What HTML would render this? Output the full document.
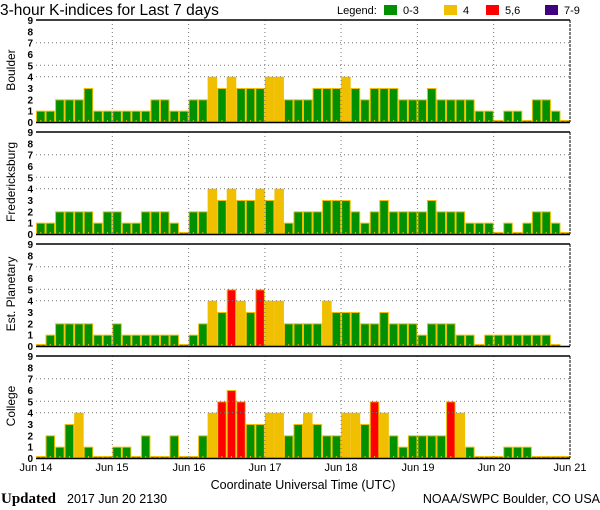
<!DOCTYPE html>
<html><head><meta charset="utf-8"><style>
html,body{margin:0;padding:0;background:#fff;}
svg{display:block;font-family:"Liberation Sans","DejaVu Sans",sans-serif;}
</style></head><body>
<svg id="s" width="600" height="510" viewBox="0 0 600 510" xmlns="http://www.w3.org/2000/svg">
<rect width="600" height="510" fill="#fff"/>
<text x="0" y="15" font-size="15.5" fill="#000">3-hour K-indices for Last 7 days</text>
<text x="337" y="14" font-size="11" fill="#000">Legend:</text>
<rect x="384" y="5" width="13" height="10" fill="#009000"/>
<text x="403" y="14" font-size="11">0-3</text>
<rect x="444" y="5" width="13" height="10" fill="#f0c000"/>
<text x="463" y="14" font-size="11">4</text>
<rect x="486" y="5" width="13" height="10" fill="#ff0000"/>
<text x="505" y="14" font-size="11">5,6</text>
<rect x="545" y="5" width="13" height="10" fill="#400080"/>
<text x="564" y="14" font-size="11">7-9</text>
<g id="panels"></g>
<text transform="translate(15,70) rotate(-90)" text-anchor="middle" font-size="12">Boulder</text>
<text transform="translate(15,182) rotate(-90)" text-anchor="middle" font-size="12">Fredericksburg</text>
<text transform="translate(15,294) rotate(-90)" text-anchor="middle" font-size="12">Est. Planetary</text>
<text transform="translate(15,406) rotate(-90)" text-anchor="middle" font-size="12">College</text>
<g font-size="11" text-anchor="middle">
<text x="36" y="471">Jun 14</text><text x="112" y="471">Jun 15</text><text x="189" y="471">Jun 16</text><text x="265" y="471">Jun 17</text><text x="341" y="471">Jun 18</text><text x="418" y="471">Jun 19</text><text x="494" y="471">Jun 20</text><text x="570" y="471">Jun 21</text>
</g>
<text x="303" y="489" font-size="12.5" text-anchor="middle">Coordinate Universal Time (UTC)</text>
<text x="1" y="503" font-size="15" font-family="Liberation Serif,serif" font-weight="bold">Updated</text>
<text x="67" y="503" font-size="12.5">2017 Jun 20 2130</text>
<text x="600" y="503" font-size="12.5" text-anchor="end">NOAA/SWPC Boulder, CO USA</text>
<g id="yl" font-size="10" text-anchor="end" font-weight="bold"></g>
</svg>
<script>
var D=[
[1,1,2,2,2,3,1,1,1,1,1,1,2,2,1,1,2,2,4,3,4,3,3,3,4,4,2,2,2,3,3,3,4,3,2,3,3,3,2,2,2,3,2,2,2,2,1,1,0,1,1,0,2,2,1,0],
[1,1,2,2,2,2,1,2,2,1,1,2,2,2,1,0,2,2,4,3,4,3,3,4,3,4,1,2,2,2,3,3,3,2,1,2,3,2,2,2,2,3,2,2,2,1,1,1,0,1,0,1,2,2,1,0],
[0,1,2,2,2,2,1,1,2,1,1,1,1,1,1,0,1,2,4,3,5,4,3,5,4,4,2,2,2,2,4,3,3,3,2,2,3,2,2,2,1,2,2,2,1,1,0,1,1,1,1,1,1,1,0,null],
[0,2,1,3,4,1,0,0,1,1,0,2,0,0,2,0,0,2,4,5,6,5,3,3,4,4,2,3,4,3,2,2,4,4,3,5,4,2,1,2,2,2,2,5,4,1,0,0,0,1,1,1,0,0,0,0]];
var tops=[20,132,244,356],L=36,R=570,W=(R-L)/56,H=102,u=H/9,o='',ns='';
function col(v){return v<=3?'#009000':v==4?'#f0c000':v<=6?'#ff0000':'#400080';}
D.forEach(function(d,p){var t=tops[p],b=t+H;
 d.forEach(function(v,i){if(v===null)return;var x=L+i*W,h=v==0?2:v*u;
  o+='<rect x="'+(x+0.5).toFixed(2)+'" y="'+(b-h+0.5).toFixed(2)+'" width="'+(W-1).toFixed(2)+'" height="'+(h-0.5).toFixed(2)+'" fill="'+col(v)+'" stroke="#f0c000" stroke-width="1"/>';
  o+='<rect x="'+(x+W/2-0.5).toFixed(2)+'" y="'+(b-2)+'" width="1" height="2" fill="#f0c000"/>';});
 [4,5,7].forEach(function(k){var y=b-k*u;o+='<line x1="'+L+'" x2="'+R+'" y1="'+y.toFixed(1)+'" y2="'+y.toFixed(1)+'" stroke="#777" stroke-dasharray="1,3"/>';});
 for(var j=1;j<7;j++){var x=L+j*8*W;o+='<line x1="'+x.toFixed(1)+'" x2="'+x.toFixed(1)+'" y1="'+t+'" y2="'+b+'" stroke="#777" stroke-dasharray="1,3"/>';}
 o+='<line x1="'+L+'" x2="'+R+'" y1="'+t+'" y2="'+t+'" stroke="#000" stroke-width="1.5"/>';
 o+='<line x1="'+L+'" x2="'+R+'" y1="'+(b+0.5)+'" y2="'+(b+0.5)+'" stroke="#000" stroke-width="1.5"/>';
 o+='<line x1="'+R+'" x2="'+R+'" y1="'+t+'" y2="'+b+'" stroke="#000" stroke-dasharray="3,1"/>';
 for(var k=0;k<=9;k++){ns+='<text x="33" y="'+(b-k*u+4).toFixed(1)+'">'+k+'</text>';}
});
document.getElementById('panels').innerHTML=o;
document.getElementById('yl').innerHTML=ns;
</script>
</body></html>
